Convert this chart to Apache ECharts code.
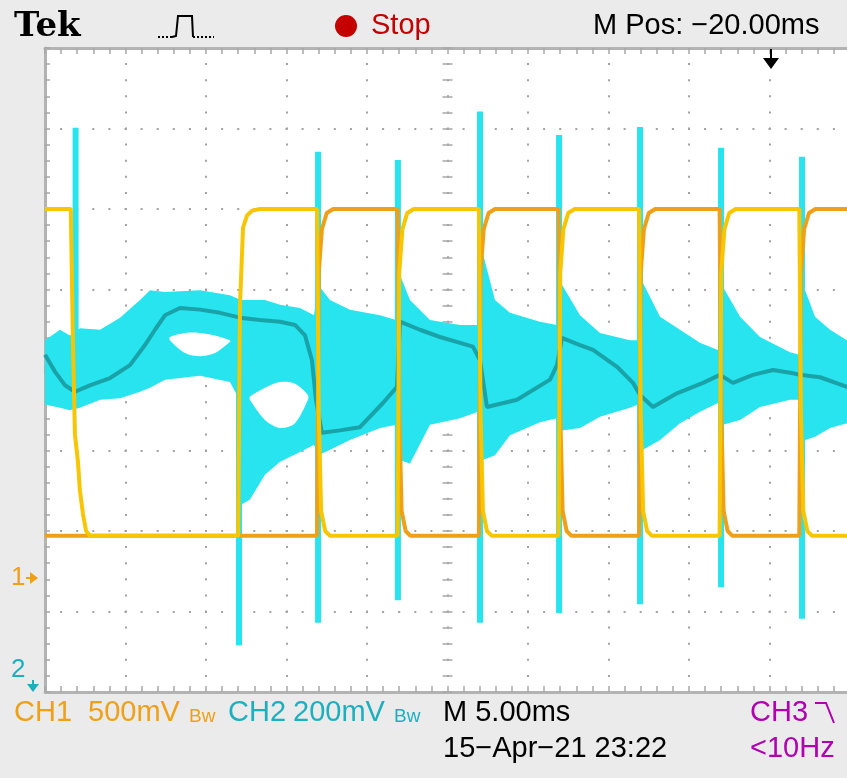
<!DOCTYPE html>
<html><head><meta charset="utf-8">
<script src="https://cdn.jsdelivr.net/npm/echarts@6/dist/echarts.min.js"></script>
<style>html,body{margin:0;padding:0;background:#ebebeb}#c{width:847px;height:778px}</style>
</head><body><div id="c"></div>
<script>
// Time axis in ms relative to trigger (5 ms/div), vertical axis in screen divisions (0 = centre)
const xTicks = {min: -45, max: 5, interval: 5};
const yTicks = {min: -4, max: 4, interval: 1};

// CH1 (two overlaid acquisitions)
const ch1aTime = [-45,-43.40,-43.26,-43.14,-42.95,-42.83,-42.64,-42.45,-42.20,
  -33.00,-32.89,-32.70,-32.45,-32.14,-31.65,
  -28.10,-28.00,-27.85,-27.60,-27.30,
  -23.10,-23.00,-22.80,-22.50,-22.10,
  -18.05,-17.95,-17.80,-17.55,-17.25,
  -13.10,-13.00,-12.80,-12.50,-12.10,
  -8.10,-8.00,-7.85,-7.60,-7.30,
  -3.10,-3.00,-2.80,-2.50,-2.10,
  1.85,1.95,2.10,2.35,2.65,5];
const ch1aDiv = [2.00,2.00,0.30,-0.80,-1.15,-1.50,-1.79,-2.00,-2.06,
  -2.06,0.80,1.77,1.92,1.98,2.00,
  2.00,-0.50,-1.75,-2.00,-2.06,
  -2.06,1.20,1.75,1.95,2.00,
  2.00,-0.50,-1.75,-2.00,-2.06,
  -2.06,1.20,1.75,1.95,2.00,
  2.00,-0.50,-1.75,-2.00,-2.06,
  -2.06,1.20,1.75,1.95,2.00,
  2.00,-0.50,-1.75,-2.00,-2.06,-2.06];
const ch1bTime = [-45,-28.10,-28.00,-27.80,-27.50,-27.10,
  -23.10,-23.00,-22.85,-22.60,-22.30,
  -18.05,-17.95,-17.75,-17.45,-17.05,
  -13.10,-13.00,-12.85,-12.60,-12.30,
  -8.10,-8.00,-7.80,-7.50,-7.10,
  -3.10,-3.00,-2.85,-2.60,-2.30,
  1.85,1.95,2.15,2.45,2.85,5];
const ch1bDiv = [-2.06,-2.06,1.20,1.75,1.95,2.00,
  2.00,-0.50,-1.75,-2.00,-2.06,
  -2.06,1.20,1.75,1.95,2.00,
  2.00,-0.50,-1.75,-2.00,-2.06,
  -2.06,1.20,1.75,1.95,2.00,
  2.00,-0.50,-1.75,-2.00,-2.06,
  -2.06,1.20,1.75,1.95,2.00,2.00];

// CH2 persistence envelope
const bandTime  = [-45.00,-44.07,-43.45,-42.83,-41.58,-40.34,-39.10,-38.48,-37.55,-35.37,-33.51,-33.08,-32.89,-32.27,-31.34,-30.40,-29.16,-28.29,-28.04,-27.30,-26.06,-24.19,-23.20,-22.95,-22.33,-21.09,-19.22,-18.11,-17.86,-17.05,-16.12,-14.26,-13.20,-12.89,-11.77,-10.53,-8.67,-8.17,-7.86,-6.80,-5.56,-4.32,-3.20,-2.89,-1.83,-0.59,1.27,1.89,2.21,2.83,3.76,4.81,5.00];
const bandUpper = [0.37,0.50,0.43,0.52,0.50,0.65,0.87,0.99,0.97,0.99,0.93,0.89,0.87,0.87,0.87,0.81,0.77,0.68,1.06,0.87,0.75,0.68,0.62,1.18,0.87,0.62,0.56,0.56,1.49,0.87,0.71,0.60,0.56,1.06,0.68,0.46,0.37,0.37,1.08,0.66,0.50,0.34,0.25,1.03,0.66,0.41,0.22,0.19,0.99,0.66,0.50,0.37,0.36];
const bandLower = [-0.43,-0.47,-0.50,-0.47,-0.37,-0.35,-0.27,-0.22,-0.12,-0.07,-0.15,-0.31,-1.68,-1.61,-1.30,-1.14,-1.02,-0.93,-1.06,-0.99,-0.87,-0.72,-0.68,-1.12,-1.16,-0.68,-0.60,-0.52,-1.12,-1.06,-0.81,-0.65,-0.60,-0.75,-0.72,-0.58,-0.47,-0.43,-0.99,-0.87,-0.66,-0.52,-0.41,-0.68,-0.62,-0.46,-0.37,-0.37,-0.87,-0.83,-0.72,-0.66,-0.66];

// Gaps (never-visited areas) inside the persistence envelope
const gapATime  = [-37.24,-36.30,-35.37,-34.44,-33.51];
const gapATop   = [0.41,0.46,0.46,0.43,0.37];
const gapABottom= [0.37,0.21,0.17,0.21,0.35];
const gapBTime  = [-32.27,-31.34,-30.40,-29.47,-28.67];
const gapBTop   = [-0.33,-0.22,-0.15,-0.17,-0.31];
const gapBBottom= [-0.37,-0.62,-0.72,-0.66,-0.37];

// CH2 dominant (bright) trace
const ch2Time = [-45.00,-44.38,-43.76,-43.14,-42.21,-40.96,-39.72,-38.79,-38.17,-37.55,-36.62,-35.37,-34.13,-32.89,-31.65,-30.40,-29.47,-28.85,-28.42,-28.17,-27.80,-26.68,-25.44,-24.01,-23.14,-22.95,-21.71,-20.47,-18.42,-17.98,-17.55,-15.68,-13.63,-13.20,-12.89,-11.77,-10.96,-9.47,-8.48,-8.04,-7.24,-5.75,-4.13,-3.08,-2.27,-1.03,0.22,1.46,1.89,3.14,4.81,5.00];
const ch2Div  = [0.19,-0.02,-0.19,-0.27,-0.19,-0.10,0.06,0.31,0.50,0.68,0.77,0.75,0.71,0.65,0.62,0.60,0.56,0.43,0.12,-0.37,-0.78,-0.75,-0.71,-0.41,-0.21,0.60,0.50,0.41,0.29,0.12,-0.46,-0.37,-0.12,0.06,0.40,0.31,0.25,0.04,-0.16,-0.31,-0.46,-0.29,-0.16,-0.06,-0.16,-0.06,0.00,-0.04,-0.06,-0.09,-0.21,-0.22];

// CH2 switching spikes
const spikeTime   = [-43.10,-32.95,-28.04,-23.08,-17.98,-13.07,-8.04,-3.01,2.02];
const spikeTop    = [3.01,0.60,2.71,2.61,3.21,2.92,3.02,2.76,2.65];
const spikeBottom = [-0.30,-3.42,-3.14,-2.86,-3.14,-3.02,-2.91,-2.70,-3.09];

const zip = (a,b) => a.map((v,i)=>[v,b[i]]);
const CYAN = '#27e4ee', DARK = '#1aa2a9', GOLD = '#f7c600', ORANGE = '#f0a018', CH2TXT = '#1cb0bf';
const TICK = '#a8a8a8', BORDER = '#b3b3b3', DOT = '#a2a2a2';
const GL = 45, GT = 48, GW = 805, GH = 644;

function tk(len, inside){ return {show:true, inside:inside, length:len, lineStyle:{color:TICK,width:1.5}}; }
function mtk(len){ return {show:true, splitNumber:5, length:len, lineStyle:{color:TICK,width:1.5}}; }
function xa(extra){ return Object.assign({type:'value', min:xTicks.min, max:xTicks.max, interval:xTicks.interval,
  axisLabel:{show:false}, splitLine:{show:false}, axisLine:{show:false, onZero:false},
  axisTick:tk(6,true), minorTick:mtk(6), minorSplitLine:{show:false}}, extra); }
function ya(extra){ return Object.assign({type:'value', min:yTicks.min, max:yTicks.max, interval:yTicks.interval,
  axisLabel:{show:false}, splitLine:{show:false}, axisLine:{show:false, onZero:false},
  axisTick:tk(5,true), minorTick:mtk(5), minorSplitLine:{show:false}}, extra); }
const dotted = {show:true, lineStyle:{color:DOT, width:2, type:[2,14.1], dashOffset:1}};
const border = {show:true, onZero:false, lineStyle:{color:BORDER,width:3}};

function bandSeries(name, T, U, L, fill){
  return {type:'custom', name:name, clip:true, data:[[T[0], U[0]]],
    renderItem:function(params, api){
      const pts=[];
      for(let i=0;i<T.length;i++) pts.push(api.coord([T[i], U[i]]));
      for(let i=T.length-1;i>=0;i--) pts.push(api.coord([T[i], L[i]]));
      return {type:'polygon', shape:{points:pts, smooth:0.3}, style:{fill:fill}};
    }};
}

const chart = echarts.init(document.getElementById('c'), null, {renderer:'canvas'});
const F = '"Liberation Sans", Arial, sans-serif';
function txt(x,y,s,fill,size){ return {type:'text', x:x, y:y, z:100,
  style:{text:s, fill:fill, font:(size||29)+'px '+F, verticalAlign:'middle'}}; }

chart.setOption({
  animation:false,
  backgroundColor:'#ebebeb',
  grid:{left:GL, top:GT, width:GW, height:GH, show:true, backgroundColor:'#ffffff', borderWidth:0, containLabel:false, outerBoundsMode:'none'},
  xAxis:[
    xa({position:'bottom', splitLine:dotted, axisLine:border}),
    xa({position:'top', axisLine:border}),
    xa({position:'top', offset:-GH/2, axisTick:tk(4,true), minorTick:mtk(4)}),
    xa({position:'top', offset:-GH/2, axisTick:tk(4,false), minorTick:mtk(4)})
  ],
  yAxis:[
    ya({position:'left', splitLine:dotted, axisLine:border}),
    ya({position:'left', offset:-GW/2, axisTick:tk(5,true), minorTick:mtk(5)}),
    ya({position:'left', offset:-GW/2, axisTick:tk(5,false), minorTick:mtk(5)})
  ],
  series:[
    {type:'custom', name:'CH2 envelope', clip:true, data:[[bandTime[0], bandUpper[0]]],
     renderItem:function(params, api){
       const pts=[];
       for(let i=0;i<bandTime.length;i++) pts.push(api.coord([bandTime[i], bandUpper[i]]));
       for(let i=bandTime.length-1;i>=0;i--) pts.push(api.coord([bandTime[i], bandLower[i]]));
       return {type:'polygon', shape:{points:pts}, style:{fill:CYAN}};
     }},
    bandSeries('CH2 gap A', gapATime, gapATop, gapABottom, '#ffffff'),
    bandSeries('CH2 gap B', gapBTime, gapBTop, gapBBottom, '#ffffff'),
    {type:'custom', name:'CH2 spikes', clip:true, encode:{x:0, y:[1,2]},
     data: spikeTime.map((t,i)=>[t, spikeTop[i], spikeBottom[i]]),
     renderItem:function(params, api){
       const a=api.coord([api.value(0), api.value(1)]), b=api.coord([api.value(0), api.value(2)]);
       return {type:'rect', shape:{x:a[0]-3, y:a[1], width:6, height:b[1]-a[1]}, style:{fill:CYAN}};
     }},
    {type:'line', name:'CH2', data:zip(ch2Time, ch2Div), showSymbol:false, symbol:'none',
     lineStyle:{color:DARK, width:4}},
    {type:'line', name:'CH1 b', data:zip(ch1bTime, ch1bDiv), showSymbol:false, symbol:'none',
     lineStyle:{color:ORANGE, width:4}},
    {type:'line', name:'CH1 a', data:zip(ch1aTime, ch1aDiv), showSymbol:false, symbol:'none',
     lineStyle:{color:GOLD, width:4}}
  ],
  graphic:[
    {type:'text', x:14, y:27, z:100, style:{text:'Tek', fill:'#000', font:'bold 34px "DejaVu Serif", serif', verticalAlign:'middle'}},
    {type:'polyline', z:100, shape:{points:[[158,37],[172,37]]}, style:{stroke:'#000', lineWidth:2, lineDash:[2,2], fill:null}},
    {type:'polyline', z:100, shape:{points:[[172,37],[176,36],[178,16],[192,16],[193,37]]}, style:{stroke:'#000', lineWidth:2, fill:null}},
    {type:'polyline', z:100, shape:{points:[[193,37],[214,37]]}, style:{stroke:'#000', lineWidth:2, lineDash:[2,2], fill:null}},
    {type:'circle', z:100, shape:{cx:346, cy:26, r:11}, style:{fill:'#c40000'}},
    txt(371, 26, 'Stop', '#c40000'),
    txt(593, 26, 'M Pos: \u221220.00ms', '#000'),
    {type:'polyline', z:100, shape:{points:[[771,49],[771,62]]}, style:{stroke:'#000', lineWidth:2, fill:null}},
    {type:'polygon', z:100, shape:{points:[[763,58],[779,58],[771,69]]}, style:{fill:'#000'}},
    txt(11, 578, '1', ORANGE, 26),
    {type:'polygon', z:100, shape:{points:[[30,572],[38,578],[30,584]]}, style:{fill:ORANGE}},
    {type:'polyline', z:100, shape:{points:[[26,578],[32,578]]}, style:{stroke:ORANGE, lineWidth:2, fill:null}},
    txt(11, 670, '2', CH2TXT, 26),
    {type:'polyline', z:100, shape:{points:[[33,680],[33,688]]}, style:{stroke:CH2TXT, lineWidth:2, fill:null}},
    {type:'polygon', z:100, shape:{points:[[27,684],[39,684],[33,692]]}, style:{fill:CH2TXT}},
    txt(14, 713, 'CH1', ORANGE),
    txt(88, 713, '500mV', ORANGE),
    txt(189, 717, 'Bw', ORANGE, 19),
    txt(228, 713, 'CH2', CH2TXT),
    txt(293, 713, '200mV', CH2TXT),
    txt(394, 717, 'Bw', CH2TXT, 19),
    txt(443, 713, 'M 5.00ms', '#000'),
    txt(750, 713, 'CH3', '#b000b0'),
    {type:'polyline', z:100, shape:{points:[[815,703],[826,703],[834,723]]}, style:{stroke:'#b000b0', lineWidth:2, fill:null}},
    txt(443, 749, '15\u2212Apr\u221221 23:22', '#000'),
    txt(750, 749, '<10Hz', '#b000b0')
  ]
});
</script></body></html>
